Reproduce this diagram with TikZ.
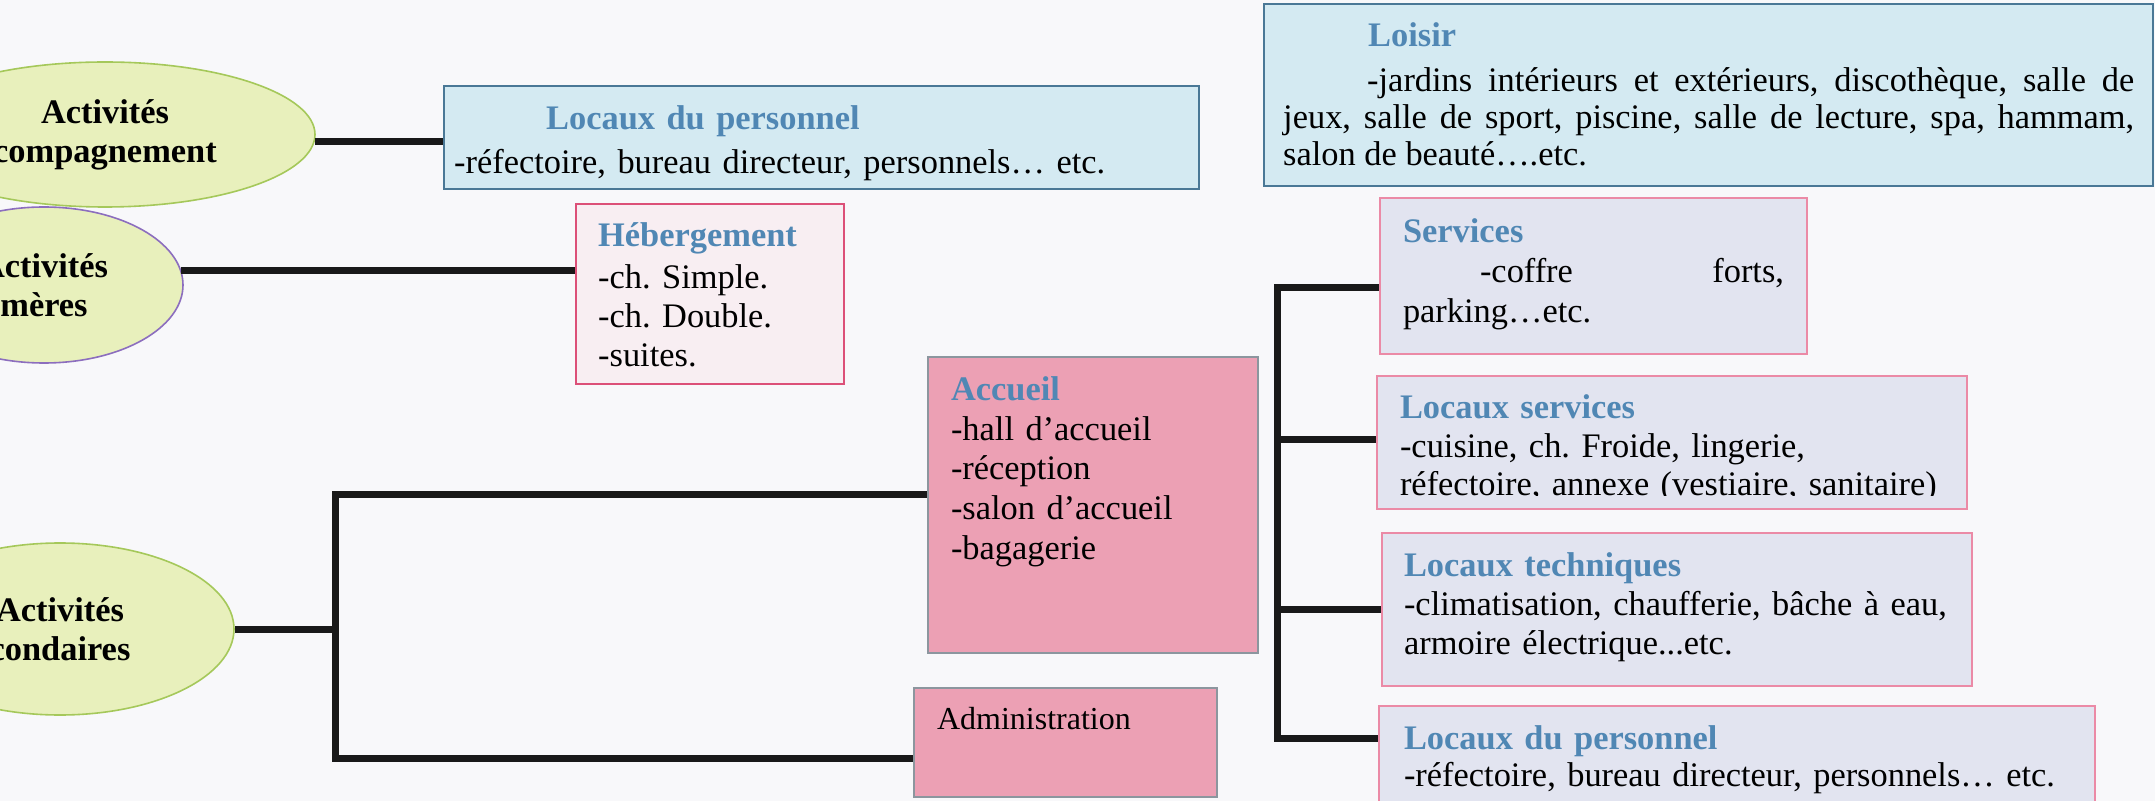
\documentclass[tikz,border=0pt]{standalone}
\usepackage{fontspec}
\setmainfont{Liberation Serif}
\usepackage{trimclip}
\usetikzlibrary{shapes.geometric}
\definecolor{paper}{HTML}{F8F8FA}
\definecolor{titleblue}{HTML}{5087B4}
\definecolor{bluefill}{HTML}{D4EAF2}
\definecolor{blueline}{HTML}{4A7896}
\definecolor{pinkfill}{HTML}{F8EEF2}
\definecolor{pinkline}{HTML}{DC5078}
\definecolor{greyfill}{HTML}{E2E4F0}
\definecolor{greyline}{HTML}{EB8AA6}
\definecolor{rosefill}{HTML}{ECA0B4}
\definecolor{roseline}{HTML}{8C969E}
\definecolor{ellfill}{HTML}{E8F0BC}
\definecolor{ellgreen}{HTML}{A5C85A}
\definecolor{ellpurple}{HTML}{8C6EBE}
\newcommand{\boxtitle}[1]{{\bfseries\color{titleblue}#1}}
\frenchspacing

\begin{document}
\begin{tikzpicture}[x=0.5pt, y=-0.5pt,
  link/.style={line width=3.5pt, black!90},
  ellbox/.style={ellipse, fill=ellfill, line width=0.8pt, inner sep=0pt, align=center, font=\bfseries\fontsize{17.2}{19.5}\selectfont},
  txtbox/.style={rectangle, anchor=north west, inner ysep=0pt, align=left, font=\fontsize{17.2}{19.75}\selectfont},
  bluebox/.style={txtbox, fill=bluefill, draw=blueline, line width=1.2pt},
  pinkbox/.style={txtbox, fill=pinkfill, draw=pinkline, line width=1.2pt},
  greybox/.style={txtbox, fill=greyfill, draw=greyline, line width=1pt},
  rosebox/.style={txtbox, fill=rosefill, draw=roseline, line width=1pt}]
\clip (0,0) rectangle (2155,801);
\fill[paper] (0,0) rectangle (2155,801);

% activites
\node[ellbox, draw=ellgreen, minimum width=210pt, minimum height=72.5pt] (ellA) at (105,134.5) {Activités\\compagnement};
\node[ellbox, draw=ellpurple, minimum width=139pt, minimum height=78pt] (ellB) at (44,285) {Activités\\mères};
\node[ellbox, draw=ellgreen, minimum width=174pt, minimum height=86pt] (ellC) at (60,629) {Activités\\condaires};

% boites du haut
\node[bluebox, inner xsep=5pt, text width=367.5pt, text height=21.5pt, text depth=30pt] (persA) at (443,85) {\hspace*{46pt}\boxtitle{Locaux du personnel}\\[2.25pt] -réfectoire, bureau directeur, personnels… etc.};
\node[pinkbox, inner xsep=11pt, text width=112pt, text height=21pt, text depth=69pt, font=\fontsize{17.2}{19.5}\selectfont] (heberg) at (575,203) {\boxtitle{Hébergement}\\[1.5pt] -ch. Simple.\\ -ch. Double.\\ -suites.};
\node[bluebox, inner xsep=9.5pt, text width=425.5pt, align=justify, text height=21pt, text depth=70pt, font=\fontsize{17.2}{18.5}\selectfont] (loisir) at (1263,3) {\hspace*{42.5pt}\boxtitle{Loisir}\\[4pt] \hspace*{42pt}-jardins intérieurs et extérieurs, discothèque, salle de jeux, salle de sport, piscine, salle de lecture, spa, hammam, salon de beauté….etc.};

% accueil et administration
\node[rosebox, inner xsep=11.5pt, text width=142pt, text height=22pt, text depth=126pt] (accueil) at (927,356) {\boxtitle{Accueil}\\ -hall d’accueil\\ -réception\\ -salon d’accueil\\ -bagagerie};
\node[rosebox, inner xsep=11.5pt, text width=128.5pt, text height=20.5pt, text depth=34pt, font=\fontsize{16}{19}\selectfont] (admin) at (913,687) {Administration};

% boites de droite
\node[greybox, inner xsep=11.5pt, text width=190.5pt, text height=22.5pt, text depth=55.5pt, font=\fontsize{17.2}{20}\selectfont] (services) at (1379,197) {\boxtitle{Services}\\ \hspace*{38.5pt}-coffre\hfill forts,\\ parking…etc.};
\node[greybox, inner xsep=11.5pt, text width=272pt, text height=21.5pt, text depth=45pt, font=\fontsize{17.2}{19.25}\selectfont] (locserv) at (1376,375) {\boxtitle{Locaux services}\\ -cuisine, ch. Froide, lingerie,\\ \clipbox{0pt {\depth} 0pt 0pt}{réfectoire, annexe (vestiaire, sanitaire)}};
\node[greybox, inner xsep=11pt, text width=273pt, text height=21.5pt, text depth=55pt, font=\fontsize{17.2}{19.5}\selectfont] (loctech) at (1381,532) {\boxtitle{Locaux techniques}\\ -climatisation, chaufferie, bâche à eau,\\ armoire électrique...etc.};
\node[greybox, inner xsep=12.5pt, text width=333pt, text height=21.5pt, text depth=40pt] (persB) at (1378,705) {\boxtitle{Locaux du personnel}\\[-1.25pt] -réfectoire, bureau directeur, personnels… etc.};

% liaisons
\coordinate (forkL) at (335,629);
\coordinate (forkR) at (1277,450);
\draw[link] (ellA.-2.3) -- (ellA.-2.3 -| persA.west);
\draw[link] (ellB.6.5) -- (ellB.6.5 -| heberg.west);
\draw[link] (ellC.east) -- (forkL);
\draw[link] ([yshift=5.5pt]accueil.west) -| (forkL) |- ([yshift=-7.75pt]admin.west);
\draw[link] ([yshift=-6pt]services.west) -| (forkR) |- ([yshift=14.75pt]persB.west);
\draw[link] ([yshift=1.25pt]locserv.west) -- ([yshift=1.25pt]locserv.west -| forkR);
\draw[link] (loctech.west) -- (loctech.west -| forkR);
\end{tikzpicture}
\end{document}
